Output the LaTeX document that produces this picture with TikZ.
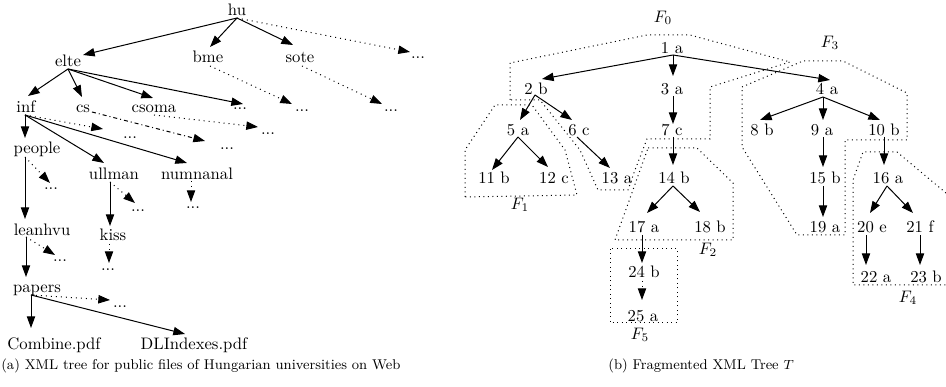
\documentclass[tikz,border=0pt]{standalone}
\usetikzlibrary{arrows.meta,calc}

\begin{document}
\begin{tikzpicture}[x=0.6pt,y=-0.6pt,
    lbl/.style={inner sep=0pt, text height=7pt, text depth=2pt},
    edge/.style={line width=0.6pt, -{Triangle[length=7pt,width=5pt]}},
    dotedge/.style={edge, dash pattern=on 0.6pt off 2.4pt},
    dashdotedge/.style={edge, dash pattern=on 2.4pt off 1.8pt on 0.6pt off 1.8pt},
    frag/.style={line width=0.6pt, dash pattern=on 0.6pt off 2.1pt},
    captext/.style={anchor=base west, inner sep=0pt, font=\fontsize{8.5}{10}\selectfont}
]
\useasboundingbox (0,0) rectangle (946,387);

% (a) directory tree
\node[lbl] (hu) at (237,11) {hu};
\node[lbl] (elte) at (68,62) {elte};
\node[lbl] (bme) at (208,58) {bme};
\node[lbl] (sote) at (300,58) {sote};
\node[lbl] (dhu) at (418,54) {...};
\node[lbl] (inf) at (26,108) {inf};
\node[lbl] (cs) at (83,108) {cs};
\node[lbl] (csoma) at (154,108) {csoma};
\node[lbl] (delte) at (240,105) {...};
\node[lbl] (dbme) at (302,107) {...};
\node[lbl] (dsote) at (391,107) {...};
\node[lbl] (dinf) at (130,134) {...};
\node[lbl] (dcs) at (227,145) {...};
\node[lbl] (dcsoma) at (268,130) {...};
\node[lbl] (people) at (37,149) {people};
\node[lbl] (ullman) at (114,175) {ullman};
\node[lbl] (numnanal) at (197,175) {numnanal};
\node[lbl] (dpeople) at (51,185) {...};
\node[lbl] (dullman) at (138,207) {...};
\node[lbl] (dnum) at (193,204) {...};
\node[lbl] (leanhvu) at (42,231) {leanhvu};
\node[lbl] (kiss) at (113,236) {kiss};
\node[lbl] (dleanhvu) at (60,257) {...};
\node[lbl] (dkiss) at (108,266) {...};
\node[lbl] (papers) at (37,288) {papers};
\node[lbl] (dpapers) at (120,303) {...};
\node[lbl] (combine) at (54,345) {Combine.pdf};
\node[lbl] (dlindexes) at (194,345) {DLIndexes.pdf};

\draw[edge] ($(hu)+(0,7)$) -- ($(elte)+(15,-7)$);
\draw[edge] ($(hu)+(0,7)$) -- ($(bme)+(2,-11)$);
\draw[edge] ($(hu)+(0,7)$) -- ($(sote)+(-7,-13)$);
\draw[dotedge] ($(hu)+(0,7)$) -- ($(dhu)+(-8,-2)$);
\draw[edge] ($(elte)+(0,7)$) -- ($(inf)+(2,-12)$);
\draw[edge] ($(elte)+(0,7)$) -- ($(cs)+(-1,-11)$);
\draw[edge] ($(elte)+(0,7)$) -- ($(csoma)+(-1,-10)$);
\draw[edge] ($(elte)+(0,7)$) -- ($(delte)+(3,-1)$);
\draw[dotedge] ($(bme)+(2,8)$) -- ($(dbme)+(-10,-3)$);
\draw[dotedge] ($(sote)+(2,8)$) -- ($(dsote)+(-9,-3)$);
\draw[edge] ($(inf)+(-1,7)$) -- ($(people)+(-12,-11)$);
\draw[edge] ($(inf)+(-1,7)$) -- ($(ullman)+(-10,-12)$);
\draw[edge] ($(inf)+(-1,7)$) -- ($(numnanal)+(-10,-12)$);
\draw[dotedge] ($(inf)+(-1,7)$) -- ($(dinf)+(-27,-5)$);
\draw[dashdotedge] ($(cs)+(9,4)$) -- ($(dcs)+(-22,-4)$);
\draw[dotedge] ($(csoma)+(0,7)$) -- ($(dcsoma)+(-10,-3)$);
\draw[edge] ($(people)+(-12,8)$) -- ($(leanhvu)+(-17,-12)$);
\draw[dotedge] ($(people)+(-12,8)$) -- ($(dpeople)+(-1,-2)$);
\draw[edge] ($(ullman)+(-4,7)$) -- ($(kiss)+(-3,-10)$);
\draw[dotedge] ($(ullman)+(-4,7)$) -- ($(dullman)+(-3,-4)$);
\draw[dotedge] ($(numnanal)+(-6,6)$) -- ($(dnum)+(-2,-2)$);
\draw[edge] ($(leanhvu)+(-16,6)$) -- ($(papers)+(-11,-11)$);
\draw[dotedge] ($(leanhvu)+(-16,6)$) -- ($(dleanhvu)+(-5,-2)$);
\draw[dotedge] ($(kiss)+(-4,8)$) -- ($(dkiss)+(1,-3)$);
\draw[edge] ($(papers)+(-6,7)$) -- ($(combine)+(-23,-17)$);
\draw[dotedge] ($(papers)+(-6,7)$) -- ($(dpapers)+(-10,-3)$);
\draw[edge] ($(papers)+(-6,7)$) -- ($(dlindexes)+(-9,-11)$);

\node[captext] (capa) at (1,370) {(a) XML tree for public files of Hungarian universities on Web};

% (b) fragmented tree
\node[lbl] (n1) at (672,49) {1 a};
\node[lbl] (n2) at (536,90) {2 b};
\node[lbl] (n3) at (672,90) {3 a};
\node[lbl] (n4) at (827,90) {4 a};
\node[lbl] (n5) at (518,131) {5 a};
\node[lbl] (n6) at (579,131) {6 c};
\node[lbl] (n7) at (672,131) {7 c};
\node[lbl] (n8) at (762,131) {8 b};
\node[lbl] (n9) at (822,131) {9 a};
\node[lbl] (n10) at (884,131) {10 b};
\node[lbl] (n11) at (494,179) {11 b};
\node[lbl] (n12) at (554,179) {12 c};
\node[lbl] (n13) at (617,179) {13 a};
\node[lbl] (n14) at (674,179) {14 b};
\node[lbl] (n15) at (825,179) {15 b};
\node[lbl] (n16) at (888,179) {16 a};
\node[lbl] (n17) at (644,228) {17 a};
\node[lbl] (n18) at (710,228) {18 b};
\node[lbl] (n19) at (825,228) {19 a};
\node[lbl] (n20) at (872,228) {20 e};
\node[lbl] (n21) at (920,228) {21 f};
\node[lbl] (n22) at (876,278) {22 a};
\node[lbl] (n23) at (926,278) {23 b};
\node[lbl] (n24) at (644,273) {24 b};
\node[lbl] (n25) at (643,317) {25 a};

\draw[edge] ($(n1)+(1,6)$) -- ($(n2)+(6,-11)$);
\draw[edge] ($(n1)+(1,6)$) -- ($(n3)+(1,-14)$);
\draw[edge] ($(n1)+(1,6)$) -- ($(n4)+(3,-10)$);
\draw[edge] ($(n2)+(-1,5)$) -- ($(n5)+(2,-11)$);
\draw[edge] ($(n2)+(-1,5)$) -- ($(n6)+(-7,-11)$);
\draw[edge] ($(n3)+(1,6)$) -- ($(n7)+(1,-7)$);
\draw[edge] ($(n4)+(-4,7)$) -- ($(n8)+(-2,-11)$);
\draw[edge] ($(n4)+(-4,7)$) -- ($(n9)+(1,-11)$);
\draw[edge] ($(n4)+(-4,7)$) -- ($(n10)+(-4,-11)$);
\draw[edge] ($(n5)+(0,6)$) -- ($(n11)+(-2,-9)$);
\draw[edge] ($(n5)+(0,6)$) -- ($(n12)+(-6,-12)$);
\draw[edge] ($(n6)+(-2,6)$) -- ($(n13)+(-7,-11)$);
\draw[edge] ($(n7)+(1,6)$) -- ($(n14)+(-1,-14)$);
\draw[edge] ($(n9)+(1,6)$) -- ($(n15)+(-2,-12)$);
\draw[edge] ($(n10)+(0,6)$) -- ($(n16)+(-4,-14)$);
\draw[edge] ($(n14)+(-1,7)$) -- ($(n17)+(3,-15)$);
\draw[edge] ($(n14)+(-1,7)$) -- ($(n18)+(-10,-16)$);
\draw[edge] ($(n15)+(-2,7)$) -- ($(n19)+(-2,-11)$);
\draw[edge] ($(n16)+(-1,7)$) -- ($(n20)+(-2,-15)$);
\draw[edge] ($(n16)+(-1,7)$) -- ($(n21)+(-7,-15)$);
\draw[edge] ($(n17)+(-2,7)$) -- ($(n24)+(-2,-10)$);
\draw[edge] ($(n20)+(-6,7)$) -- ($(n22)+(-10,-13)$);
\draw[edge] ($(n21)+(0,7)$) -- ($(n23)+(-6,-13)$);
\draw[dotedge] ($(n24)+(-2,8)$) -- ($(n25)+(-1,-17)$);

% fragments
\draw[frag] (510,100) -- (510,63) -- (647,35) -- (690,35) -- (790,62) -- (710,87)
  -- (710,139) -- (647,139) -- (635,170) -- (628,190) -- (598,190) -- (580,150)
  -- (540,100) -- cycle;
\draw[frag] (465,197) -- (465,150) -- (495,105) -- (532,105) -- (565,150) -- (577,195) -- cycle;
\draw[frag] (648,148) -- (697,148) -- (733,183) -- (733,240) -- (615,240) -- cycle;
\draw[frag] (742,87) -- (803,61) -- (843,61) -- (907,93) -- (907,140) -- (845,140)
  -- (845,235) -- (797,235) -- (742,147) -- cycle;
\draw[frag] (946,193) -- (897,152) -- (863,152) -- (853,180) -- (853,285) -- (946,285);
\draw[frag] (610,249) rectangle (677,323);

\node[lbl] (f0) at (663,18) {$F_0$};
\node[lbl] (f1) at (520,205) {$F_1$};
\node[lbl] (f2) at (708,250) {$F_2$};
\node[lbl] (f3) at (830,43) {$F_3$};
\node[lbl] (f4) at (908,298) {$F_4$};
\node[lbl] (f5) at (640,335) {$F_5$};

\node[captext] (capb) at (608,370) {(b) Fragmented XML Tree $T$};
\end{tikzpicture}
\end{document}
